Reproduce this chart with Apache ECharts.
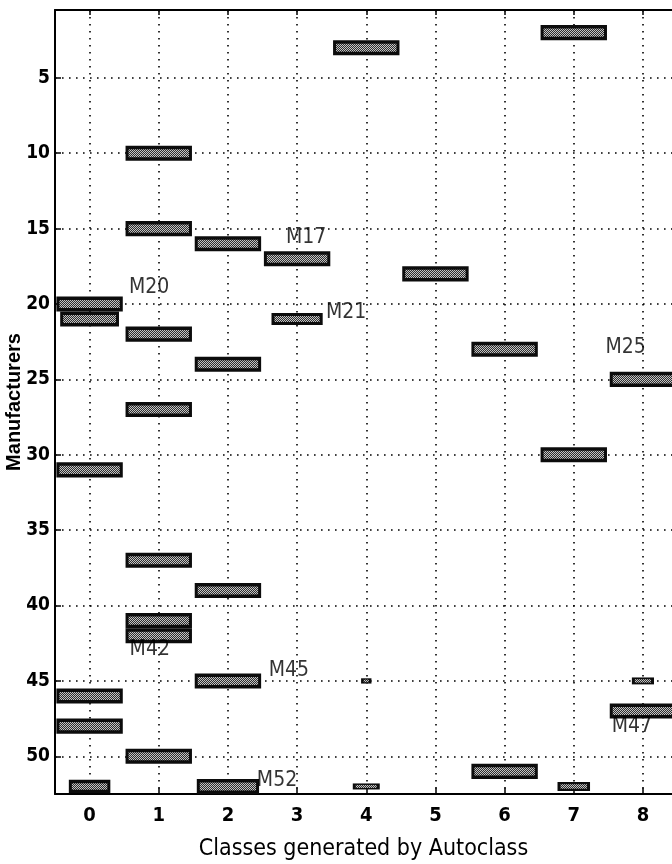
<!DOCTYPE html>
<html>
<head>
<meta charset="utf-8">
<script src="https://cdn.jsdelivr.net/npm/echarts@6/dist/echarts.min.js"></script>
<style>
html,body{margin:0;padding:0;background:#fff;}
#chart{width:672px;height:864px;}
</style>
</head>
<body>
<div id="chart"></div>
<script>
// ---- data ----
const classIds      = [7, 4, 1, 1, 2, 3, 5, 0, 0, 3, 1, 6, 2, 8, 1, 7, 0, 1, 2, 1, 1, 2, 4, 8, 0, 8, 0, 1, 6, 0, 2, 4, 7];
const manufacturers = [2, 3, 10, 15, 16, 17, 18, 20, 21, 21, 22, 23, 24, 25, 27, 30, 31, 37, 39, 41, 42, 45, 45, 45, 46, 47, 48, 50, 51, 52, 52, 52, 52];
const barWidths     = [0.96, 0.96, 0.96, 0.96, 0.96, 0.96, 0.96, 0.96, 0.85, 0.74, 0.96, 0.96, 0.96, 0.96, 0.96, 0.96, 0.96, 0.96, 0.96, 0.96, 0.96, 0.96, 0.15, 0.32, 0.96, 0.96, 0.96, 0.96, 0.96, 0.6, 0.9, 0.39, 0.47];
const barHeights    = [1, 1, 1, 1, 1, 1, 1, 1, 1, 0.8, 1, 1, 1, 1, 1, 1, 1, 1, 1, 1, 1, 1, 0.35, 0.46, 1, 1, 1, 1, 1, 0.88, 1, 0.4, 0.6];

const xTickValues = [0, 1, 2, 3, 4, 5, 6, 7, 8];
const yTickValues = [5, 10, 15, 20, 25, 30, 35, 40, 45, 50];

const noteNames = ['M17', 'M20', 'M21', 'M25', 'M42', 'M45', 'M47', 'M52'];
const noteX     = [3.13, 0.86, 3.71, 7.75, 0.87, 2.88, 7.84, 2.71];
const noteY     = [15.62, 18.93, 20.59, 22.9, 42.94, 44.33, 48.05, 51.63];

const xTitle = 'Classes generated by Autoclass';
const yTitle = 'Manufacturers';

// ---- build ----
const narrow = '"Liberation Sans Narrow", "DejaVu Sans Condensed", "Liberation Sans", sans-serif';

const pat = document.createElement('canvas');
pat.width = 2; pat.height = 2;
const pg = pat.getContext('2d');
pg.fillStyle = '#2e2e2e'; pg.fillRect(0, 0, 2, 2);
pg.fillStyle = '#c4c4c4'; pg.fillRect(0, 0, 1, 1); pg.fillRect(1, 1, 1, 1);

const barData = classIds.map((c, i) => [c, manufacturers[i], barWidths[i], barHeights[i]]);
const noteData = noteNames.map((n, i) => ({ value: [noteX[i], noteY[i]], name: n }));

const chart = echarts.init(document.getElementById('chart'));
chart.setOption({
  animation: false,
  backgroundColor: '#fff',
  grid: { left: 55, right: 0, top: 10, bottom: 70, containLabel: false, outerBoundsMode: 'none' },
  xAxis: [{
    type: 'value', min: -0.5, max: 8.42, position: 'bottom',
    name: xTitle, nameLocation: 'middle', nameGap: 44,
    nameTextStyle: { fontFamily: narrow, fontSize: 23, color: '#000' },
    axisLine: { show: true, onZero: false, lineStyle: { color: '#000', width: 2 } },
    axisTick: { show: true, inside: true, length: 6, customValues: xTickValues, lineStyle: { color: '#000', width: 1.5 } },
    axisLabel: { customValues: xTickValues, fontFamily: narrow, fontWeight: 'bold', fontSize: 20, color: '#000', margin: 12 },
    splitLine: { show: false }
  }, {
    type: 'value', min: -0.5, max: 8.42, position: 'top',
    axisLine: { show: true, onZero: false, lineStyle: { color: '#000', width: 2 } },
    axisTick: { show: true, inside: true, length: 5, customValues: xTickValues, lineStyle: { color: '#000', width: 1.5 } },
    axisLabel: { show: false },
    splitLine: { show: false }
  }],
  yAxis: {
    type: 'value', min: 0.5, max: 52.5, inverse: true,
    name: yTitle, nameLocation: 'middle', nameGap: 31, nameRotate: 90, nameMoveOverlap: false,
    nameTextStyle: { fontFamily: '"Liberation Sans", Arial, sans-serif', fontWeight: 'bold', fontSize: 20, color: '#000' },
    axisLine: { show: true, onZero: false, lineStyle: { color: '#000', width: 2 } },
    axisTick: { show: true, inside: true, length: 6, customValues: yTickValues, lineStyle: { color: '#000', width: 1.5 } },
    axisLabel: { customValues: yTickValues, fontFamily: narrow, fontWeight: 'bold', fontSize: 19, color: '#000', margin: 5 },
    splitLine: { show: false }
  },
  series: [{
    type: 'line', data: [], z: 1, silent: true,
    markLine: {
      z: 1, silent: true, symbol: ['none', 'none'], animation: false,
      label: { show: false },
      lineStyle: { color: '#000', type: [1.6, 5.4], width: 1.6 },
      emphasis: { disabled: true },
      data: xTickValues.map(v => ({ xAxis: v })).concat(yTickValues.map(v => ({ yAxis: v })))
    }
  }, {
    type: 'custom', z: 10, clip: true,
    data: barData,
    renderItem: function (params, api) {
      const c = api.value(0), m = api.value(1), w = api.value(2), h = api.value(3);
      const p0 = api.coord([c - w / 2, m - h / 2]);
      const p1 = api.coord([c + w / 2, m + h / 2]);
      const x = Math.min(p0[0], p1[0]), y = Math.min(p0[1], p1[1]);
      const W = Math.abs(p1[0] - p0[0]), H = Math.abs(p1[1] - p0[1]);
      const insX = Math.min(3, W / 4), insY = Math.min(3.5, H / 4);
      return {
        type: 'group',
        children: [
          { type: 'rect', shape: { x: x, y: y, width: W, height: H }, style: { fill: '#0c0c0c' } },
          { type: 'rect', shape: { x: x + insX, y: y + insY, width: Math.max(0, W - 2 * insX), height: Math.max(0, H - 2 * insY) },
            style: { fill: { image: pat, repeat: 'repeat' } } }
        ]
      };
    }
  }, {
    type: 'scatter', z: 12, symbolSize: 0, silent: true,
    data: noteData,
    label: {
      show: true, position: 'inside', formatter: '{b}',
      fontFamily: narrow, fontSize: 21, color: '#000'
    }
  }]
});
</script>
</body>
</html>
